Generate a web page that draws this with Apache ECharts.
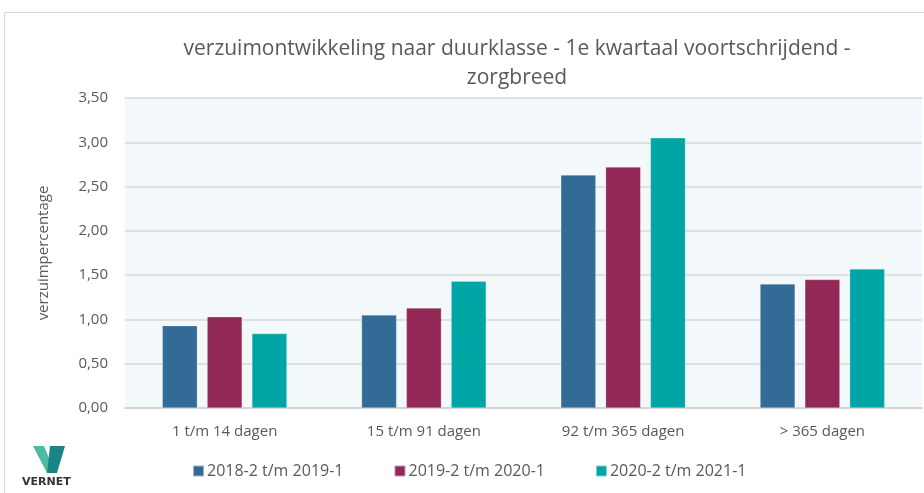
<!DOCTYPE html>
<html>
<head>
<meta charset="utf-8">
<script src="https://cdn.jsdelivr.net/npm/echarts@6/dist/echarts.min.js"></script>
<style>
  html, body { margin: 0; padding: 0; background: #fff; }
  #chart { width: 924px; height: 493px; }
</style>
</head>
<body>
<div id="chart"></div>
<script>
// data
var categories = ['1 t/m 14 dagen', '15 t/m 91 dagen', '92 t/m 365 dagen', '> 365 dagen'];
var seriesNames = ['2018-2 t/m 2019-1', '2019-2 t/m 2020-1', '2020-2 t/m 2021-1'];
var period1 = [0.93, 1.05, 2.63, 1.40];
var period2 = [1.03, 1.13, 2.72, 1.45];
var period3 = [0.84, 1.43, 3.05, 1.57];
var colors = ['#326b96', '#922856', '#00a5a6'];

var chart = echarts.init(document.getElementById('chart'));
var font = '"Open Sans", "Liberation Sans", sans-serif';

function bar(name, data, color) {
  return {
    name: name,
    type: 'bar',
    data: data,
    barWidth: 35,
    barGap: '28%',
    itemStyle: { color: color, borderColor: 'rgba(255,255,255,0.5)', borderWidth: 0.5 }
  };
}

chart.setOption({
  textStyle: { fontFamily: font },
  title: {
    text: 'verzuimontwikkeling naar duurklasse - 1e kwartaal voortschrijdend -\nzorgbreed',
    left: 512,
    textAlign: 'center',
    top: 30,
    textStyle: { fontFamily: font, fontSize: 21, fontWeight: 'normal', color: '#595959', lineHeight: 29 }
  },
  legend: {
    bottom: 9,
    left: 187,
    itemGap: 50,
    itemWidth: 11,
    itemHeight: 11,
    icon: 'rect',
    textStyle: { fontSize: 16, color: '#595959', padding: [0, 0, 0, -2] },
    data: seriesNames
  },
  grid: {
    left: 125, right: 2, top: 98, bottom: 85,
    show: true, backgroundColor: '#f3f8fb', borderWidth: 0
  },
  xAxis: {
    type: 'category',
    data: categories,
    axisLine: { lineStyle: { color: '#d0d0d0', width: 1.5 } },
    axisTick: { show: false },
    axisLabel: { fontSize: 15, color: '#595959', margin: 16 }
  },
  yAxis: {
    type: 'value',
    min: 0, max: 3.5, interval: 0.5,
    name: 'verzuimpercentage',
    nameLocation: 'middle',
    nameGap: 74,
    nameTextStyle: { fontSize: 15, color: '#595959' },
    axisLabel: {
      fontSize: 15, color: '#595959', margin: 17,
      formatter: function (v) { return v.toFixed(2).replace('.', ','); }
    },
    splitLine: { lineStyle: { color: '#d9d9d9', width: 1.5 } }
  },
  series: [
    bar(seriesNames[0], period1, colors[0]),
    bar(seriesNames[1], period2, colors[1]),
    bar(seriesNames[2], period3, colors[2])
  ],
  graphic: [
    { type: 'rect', shape: { x: 4.5, y: 12.5, width: 930, height: 500 }, style: { fill: 'none', stroke: '#d9d9d9', lineWidth: 1 }, silent: true },
    // logo
    { type: 'polygon', shape: { points: [[33, 446], [44, 446], [55, 473], [47, 473]] }, style: { fill: '#4dbba4' } },
    { type: 'polygon', shape: { points: [[50, 446], [65, 446], [57, 473], [47, 473]] }, style: { fill: '#1b8585' } },
    { type: 'text', left: 22, top: 477, style: { text: 'VERNET', font: 'bold 11px "DejaVu Sans", sans-serif', fill: '#333', letterSpacing: 1 } }
  ]
});
</script>
</body>
</html>
